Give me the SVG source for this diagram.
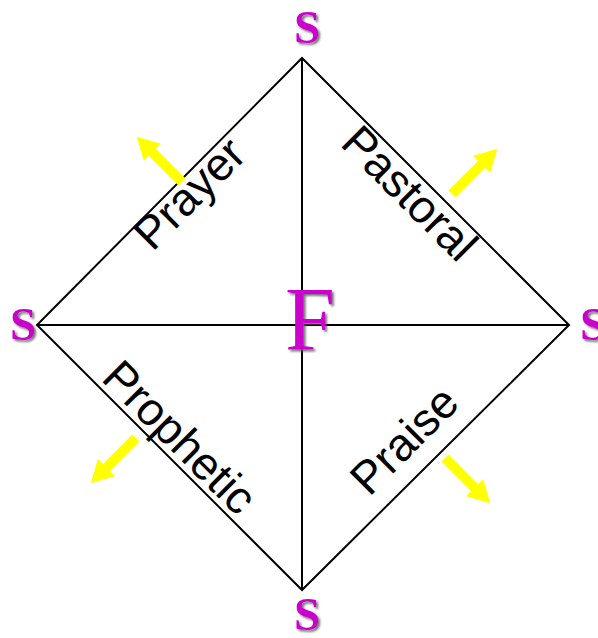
<svg xmlns="http://www.w3.org/2000/svg" width="598" height="638" viewBox="0 0 598 638">
<style>
.edge{stroke:#000;stroke-width:2;fill:none}
.lbl{font-family:"Liberation Sans",Arial,sans-serif;font-size:46px;fill:#000;text-anchor:middle}
.s{font-family:"Liberation Serif","Times New Roman",serif;font-size:47px;font-weight:bold;text-anchor:middle;fill:#CC00CC;filter:url(#shadow)}
.f{font-family:"Liberation Serif","Times New Roman",serif;font-size:90px;text-anchor:middle;fill:#CC00CC;filter:url(#shadow)}
.arrow{fill:#FFFF00}
</style>
<defs>
<filter id="shadow" x="-20%" y="-20%" width="150%" height="150%">
<feDropShadow dx="2" dy="2" stdDeviation="0.8" flood-color="#555" flood-opacity="0.8"/>
</filter>
<polygon id="arr" points="0,-5 42,-5 42,-12 64,0 42,12 42,5 0,5"/>
</defs>
<g id="connectors">
<polygon class="edge" points="302,58 569,325 302,590 37,325"/>
<line class="edge" x1="302" y1="58" x2="302" y2="590"/>
<line class="edge" x1="37" y1="325" x2="569" y2="325"/>
</g>
<g id="arrows">
<use href="#arr" class="arrow" transform="translate(182,182) rotate(225)"/>
<use href="#arr" class="arrow" transform="translate(452,194) rotate(-45)"/>
<use href="#arr" class="arrow" transform="translate(136,438) rotate(135)"/>
<use href="#arr" class="arrow" transform="translate(445,458) rotate(45)"/>
</g>
<g id="labels">
<g id="prayer" transform="translate(192,196) rotate(-45)"><text class="lbl" x="0" y="12">Prayer</text></g>
<g id="pastoral" transform="translate(410,193) rotate(45)"><text class="lbl" x="0" y="16">Pastoral</text></g>
<g id="prophetic" transform="translate(180,437) rotate(45)"><text class="lbl" x="0" y="16">Prophetic</text></g>
<g id="praise" transform="translate(404,440) rotate(-45)"><text class="lbl" x="0" y="16">Praise</text></g>
</g>
<g id="s-top"><text class="s" x="307" y="43">S</text></g>
<g id="s-left"><text class="s" x="23" y="340">S</text></g>
<g id="s-right"><text class="s" x="593" y="340">S</text></g>
<g id="s-bottom"><text class="s" x="307" y="630">S</text></g>
<g id="f-center"><text class="f" x="310" y="350">F</text></g>
</svg>
